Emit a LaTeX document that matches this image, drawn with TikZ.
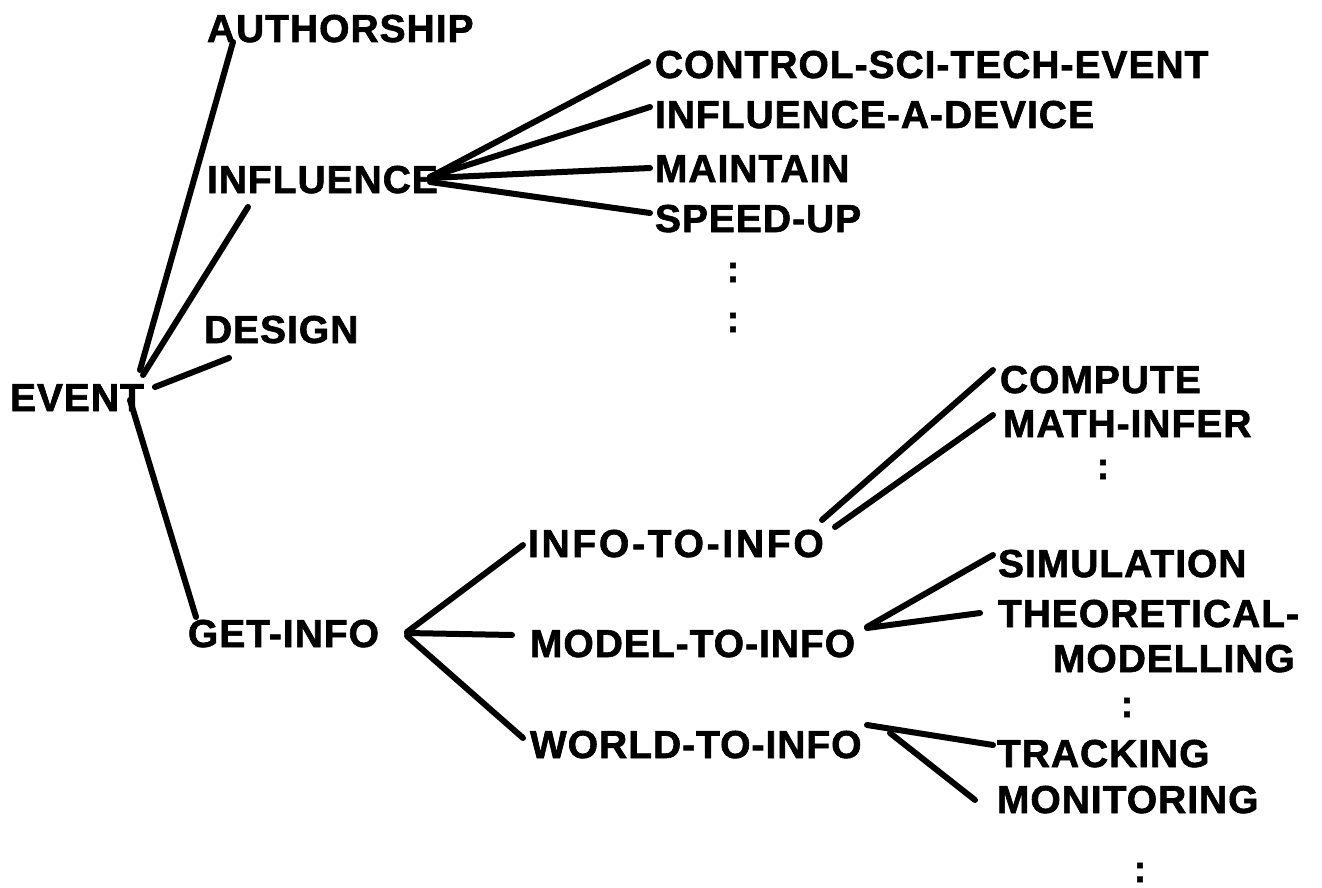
\documentclass[tikz,border=0pt]{standalone}
\usepackage{fontspec}
\setmainfont{Liberation Sans}[LetterSpace=2.5,
  BoldFont=Liberation Sans Bold, BoldFeatures={FakeBold=1.6}]
\usetikzlibrary{calc}
\tikzset{
  lbl/.style={anchor=base west, inner sep=0pt, outer sep=0pt,
    font=\fontsize{39}{39}\selectfont\bfseries},
  wide/.style={font=\fontsize{39}{39}\selectfont\bfseries\addfontfeature{LetterSpace=7}},
  more/.style={anchor=base, inner sep=0pt, outer sep=0pt,
    font=\fontsize{38}{38}\selectfont\bfseries},
  link/.style={line width=6pt, line cap=round, line join=round}
}
\begin{document}
\begin{tikzpicture}[x=1pt, y=-1pt]
\useasboundingbox (0,0) rectangle (1322,888);

% level 0 and 1
\node[lbl] (ev)      at (10,411)  {EVENT};
\node[lbl] (auth)    at (207,42)  {AUTHORSHIP};
\node[lbl] (infl)    at (207,193) {INFLUENCE};
\node[lbl] (design)  at (204,343) {DESIGN};
\node[lbl] (getinfo) at (188,647) {GET-INFO};

% children of INFLUENCE
\node[lbl] (ctrl)  at (655,78)  {CONTROL-SCI-TECH-EVENT};
\node[lbl] (iad)   at (655,128) {INFLUENCE-A-DEVICE};
\node[lbl] (maint) at (655,182) {MAINTAIN};
\node[lbl] (speed) at (655,232) {SPEED-UP};
\node[more] (dotsA) at (733,282) {:};
\node[more] (dotsB) at (733,332) {:};

% children of GET-INFO
\node[lbl, wide] (i2i) at (528,557) {INFO-TO-INFO};
\node[lbl] (m2i) at (530,657) {MODEL-TO-INFO};
\node[lbl] (w2i) at (530,758) {WORLD-TO-INFO};

% leaves
\node[lbl] (comp)  at (1000,393) {COMPUTE};
\node[lbl] (math)  at (1003,437) {MATH-INFER};
\node[more] (dotsC) at (1103,479) {:};
\node[lbl] (sim)   at (998,577)  {SIMULATION};
\node[lbl] (theo)  at (998,627)  {THEORETICAL-};
\node[lbl] (mod)   at (1053,672) {MODELLING};
\node[more] (dotsD) at (1127,717) {:};
\node[lbl] (track) at (997,767)  {TRACKING};
\node[lbl] (mon)   at (997,813)  {MONITORING};
\node[more] (dotsE) at (1140,882) {:};

% EVENT fan
\draw[link] ($(ev.base west)+(130,-41)$) -- ($(auth.base west)+(26,0)$);
\draw[link] ($(ev.base west)+(133,-36)$) -- ($(infl.base west)+(41,14)$);
\draw[link] ($(ev.base west)+(145,-24)$) -- ($(design.base west)+(25,15)$);
\draw[link] ($(ev.base west)+(120,-11)$) -- ($(getinfo.base west)+(8,-30)$);

% INFLUENCE fan
\draw[link] ($(infl.base west)+(223,-16)$) -- ($(ctrl.base west)+(-7,-16)$);
\draw[link] ($(infl.base west)+(223,-16)$) -- ($(iad.base west)+(-5,-21)$);
\draw[link] ($(infl.base west)+(223,-15)$) -- ($(maint.base west)+(-5,-14)$);
\draw[link] ($(infl.base west)+(223,-11)$) -- ($(speed.base west)+(-5,-19)$);

% GET-INFO fan
\draw[link] ($(getinfo.base west)+(219,-15)$) -- ($(i2i.base west)+(-5,-12)$);
\draw[link] ($(getinfo.base west)+(219,-14)$) -- ($(m2i.base west)+(-18,-22)$);
\draw[link] ($(getinfo.base west)+(219,-11)$) -- ($(w2i.base west)+(-7,-20)$);

% third level
\draw[link] ($(i2i.base west)+(294,-37)$) -- ($(comp.base west)+(-7,-23)$);
\draw[link] ($(i2i.base west)+(307,-30)$) -- ($(math.base west)+(-10,-22)$);
\draw[link] ($(m2i.base west)+(337,-30)$) -- ($(sim.base west)+(-5,-22)$);
\draw[link] ($(m2i.base west)+(337,-29)$) -- ($(theo.base west)+(-18,-14)$);
\draw[link] ($(w2i.base west)+(337,-33)$) -- ($(track.base west)+(-4,-22)$);
\draw[link] ($(w2i.base west)+(360,-25)$) -- ($(mon.base west)+(-22,-13)$);
\end{tikzpicture}
\end{document}
